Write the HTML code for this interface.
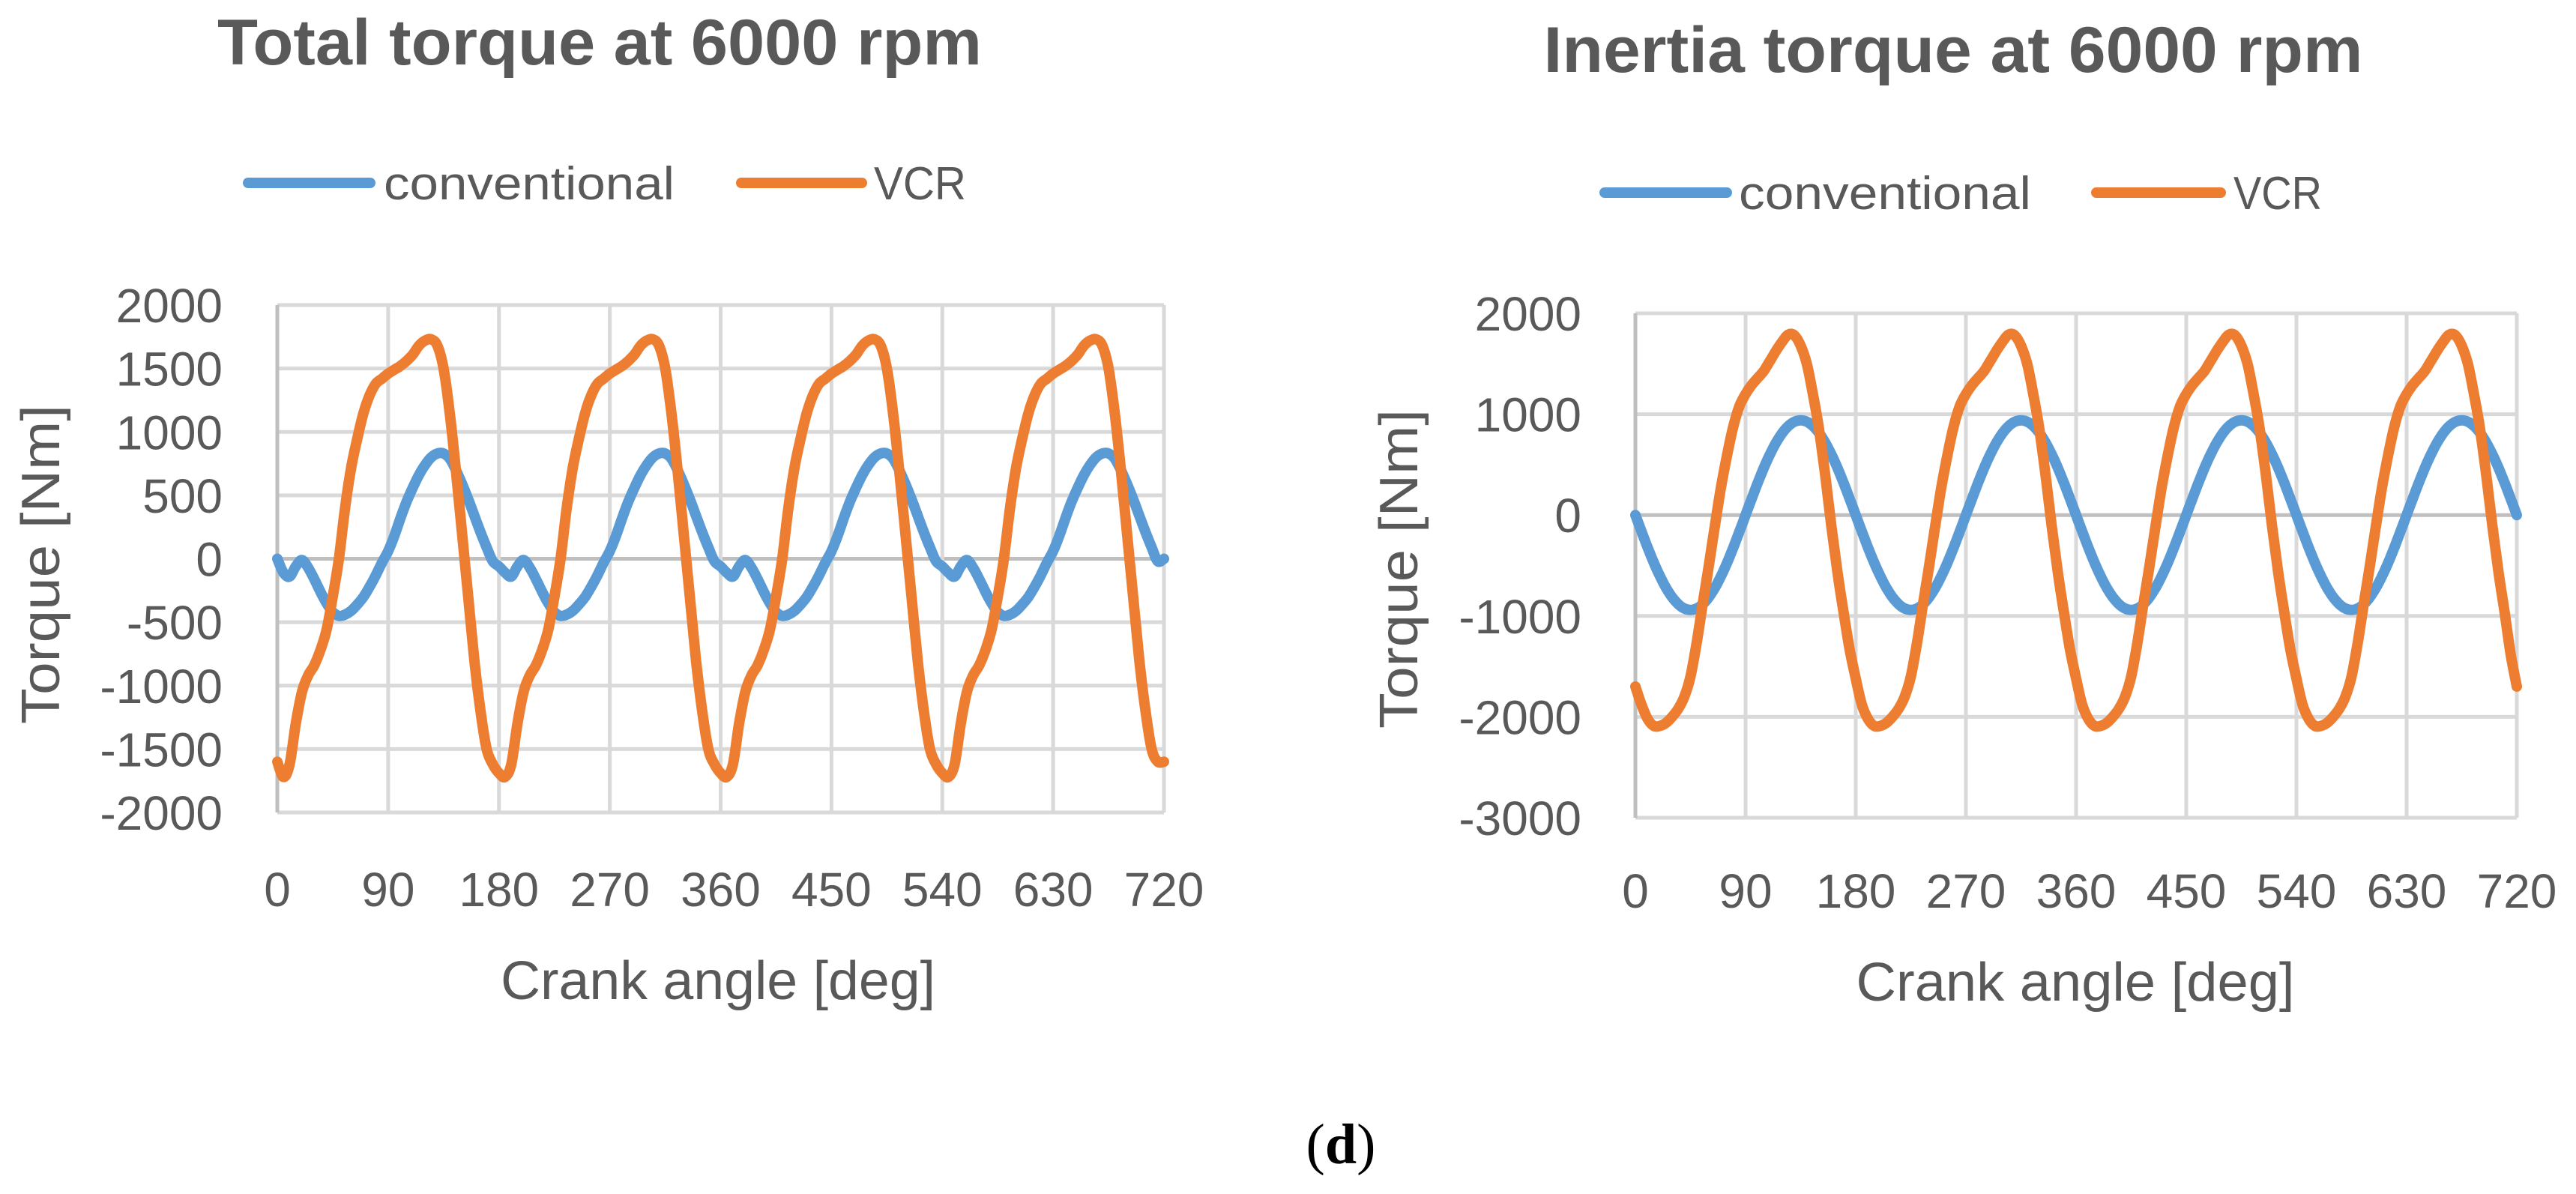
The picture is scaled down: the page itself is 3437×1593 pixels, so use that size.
<!DOCTYPE html>
<html><head><meta charset="utf-8"><style>
html,body{margin:0;padding:0;background:#fff;}
svg{display:block;font-family:"Liberation Sans",sans-serif;}
</style></head><body>
<svg id="fig" width="3437" height="1593" viewBox="0 0 3437 1593">
<g id="left">
  <text x="800" y="86" text-anchor="middle" font-weight="bold" font-size="86" fill="#595959" textLength="1020" lengthAdjust="spacingAndGlyphs">Total torque at 6000 rpm</text>
  <line x1="331" y1="244" x2="494" y2="244" stroke="#5b9bd5" stroke-width="14" stroke-linecap="round"/>
  <text x="512" y="266" font-size="62" fill="#595959" textLength="388" lengthAdjust="spacingAndGlyphs">conventional</text>
  <line x1="989" y1="244" x2="1150" y2="244" stroke="#ed7d31" stroke-width="14" stroke-linecap="round"/>
  <text x="1166" y="266" font-size="62" fill="#595959" textLength="123" lengthAdjust="spacingAndGlyphs">VCR</text>
  <text transform="translate(79,753) rotate(-90)" text-anchor="middle" font-size="72" fill="#595959" textLength="426" lengthAdjust="spacingAndGlyphs">Torque [Nm]</text>
  <text x="958" y="1333" text-anchor="middle" font-size="72" fill="#595959" textLength="580" lengthAdjust="spacingAndGlyphs">Crank angle [deg]</text>
</g>
<g id="right">
  <text x="2606" y="96" text-anchor="middle" font-weight="bold" font-size="86" fill="#595959" textLength="1093" lengthAdjust="spacingAndGlyphs">Inertia torque at 6000 rpm</text>
  <line x1="2141" y1="257" x2="2304" y2="257" stroke="#5b9bd5" stroke-width="14" stroke-linecap="round"/>
  <text x="2320" y="279" font-size="62" fill="#595959" textLength="390" lengthAdjust="spacingAndGlyphs">conventional</text>
  <line x1="2797" y1="257" x2="2963" y2="257" stroke="#ed7d31" stroke-width="14" stroke-linecap="round"/>
  <text x="2980" y="279" font-size="62" fill="#595959" textLength="118" lengthAdjust="spacingAndGlyphs">VCR</text>
  <text transform="translate(1891,759) rotate(-90)" text-anchor="middle" font-size="72" fill="#595959" textLength="426" lengthAdjust="spacingAndGlyphs">Torque [Nm]</text>
  <text x="2769" y="1335" text-anchor="middle" font-size="72" fill="#595959" textLength="585" lengthAdjust="spacingAndGlyphs">Crank angle [deg]</text>
</g>
<text x="1789" y="1552" text-anchor="middle" font-family="Liberation Serif, serif" font-size="76" fill="#000">(<tspan font-weight="bold">d</tspan>)</text>
</svg>
<script>
const NS='http://www.w3.org/2000/svg';
const xTicks=[0,90,180,270,360,450,540,630,720];
const leftYTicks=[2000,1500,1000,500,0,-500,-1000,-1500,-2000];
const rightYTicks=[2000,1000,0,-1000,-2000,-3000];
const angleStep=5;
const leftConventional=[0,-110,-140,-60,-10,-70,-160,-260,-350,-420,-450,-440,-410,-360,-300,-220,-130,-30,60,180,320,450,560,660,740,800,830,830,790,700,590,470,340,210,90,-20,
-60,-110,-140,-60,-10,-70,-160,-260,-350,-420,-450,-440,-410,-360,-300,-220,-130,-30,60,180,320,450,560,660,740,800,830,830,790,700,590,470,340,210,90,-20,
-60,-110,-140,-60,-10,-70,-160,-260,-350,-420,-450,-440,-410,-360,-300,-220,-130,-30,60,180,320,450,560,660,740,800,830,830,790,700,590,470,340,210,90,-20,
-60,-110,-140,-60,-10,-70,-160,-260,-350,-420,-450,-440,-410,-360,-300,-220,-130,-30,60,180,320,450,560,660,740,800,830,830,790,700,590,470,340,210,90,-20,0];
const leftVCR=[-1600,-1720,-1620,-1300,-1050,-920,-840,-720,-560,-300,0,400,720,950,1150,1290,1380,1420,1460,1490,1520,1560,1610,1680,1720,1730,1680,1500,1150,700,200,-300,-800,-1200,-1500,-1620,
-1690,-1720,-1620,-1300,-1050,-920,-840,-720,-560,-300,0,400,720,950,1150,1290,1380,1420,1460,1490,1520,1560,1610,1680,1720,1730,1680,1500,1150,700,200,-300,-800,-1200,-1500,-1620,
-1690,-1720,-1620,-1300,-1050,-920,-840,-720,-560,-300,0,400,720,950,1150,1290,1380,1420,1460,1490,1520,1560,1610,1680,1720,1730,1680,1500,1150,700,200,-300,-800,-1200,-1500,-1620,
-1690,-1720,-1620,-1300,-1050,-920,-840,-720,-560,-300,0,400,720,950,1150,1290,1380,1420,1460,1490,1520,1560,1610,1680,1720,1730,1680,1500,1150,700,200,-300,-800,-1200,-1500,-1600,-1600];
const rightConventional=[0,-163,-321,-470,-604,-720,-814,-883,-926,-940,-926,-883,-814,-720,-604,-470,-321,-163,0,163,321,470,604,720,814,883,926,940,926,883,814,720,604,470,321,163,
0,-163,-321,-470,-604,-720,-814,-883,-926,-940,-926,-883,-814,-720,-604,-470,-321,-163,0,163,321,470,604,720,814,883,926,940,926,883,814,720,604,470,321,163,
0,-163,-321,-470,-604,-720,-814,-883,-926,-940,-926,-883,-814,-720,-604,-470,-321,-163,0,163,321,470,604,720,814,883,926,940,926,883,814,720,604,470,321,163,
0,-163,-321,-470,-604,-720,-814,-883,-926,-940,-926,-883,-814,-720,-604,-470,-321,-163,0,163,321,470,604,720,814,883,926,940,926,883,814,720,604,470,321,163,0];
const rightVCR=[-1700,-1880,-2020,-2090,-2090,-2060,-2000,-1920,-1800,-1600,-1270,-880,-500,-100,280,600,880,1080,1200,1290,1360,1430,1530,1630,1720,1790,1780,1680,1500,1200,850,400,-100,-560,-960,-1330,
-1620,-1880,-2020,-2090,-2090,-2060,-2000,-1920,-1800,-1600,-1270,-880,-500,-100,280,600,880,1080,1200,1290,1360,1430,1530,1630,1720,1790,1780,1680,1500,1200,850,400,-100,-560,-960,-1330,
-1620,-1880,-2020,-2090,-2090,-2060,-2000,-1920,-1800,-1600,-1270,-880,-500,-100,280,600,880,1080,1200,1290,1360,1430,1530,1630,1720,1790,1780,1680,1500,1200,850,400,-100,-560,-960,-1330,
-1620,-1880,-2020,-2090,-2090,-2060,-2000,-1920,-1800,-1600,-1270,-880,-500,-100,280,600,880,1080,1200,1290,1360,1430,1530,1630,1720,1790,1780,1680,1500,1200,850,400,-100,-560,-960,-1380,-1700];

function mk(tag,attrs,parent,txt){const e=document.createElementNS(NS,tag);for(const k in attrs)e.setAttribute(k,attrs[k]);if(txt!==undefined)e.textContent=txt;parent.appendChild(e);return e;}

function smooth(pts){
  let d='M'+pts[0][0].toFixed(1)+','+pts[0][1].toFixed(1);
  for(let i=0;i<pts.length-1;i++){
    const p0=pts[Math.max(0,i-1)],p1=pts[i],p2=pts[i+1],p3=pts[Math.min(pts.length-1,i+2)];
    const c1x=p1[0]+(p2[0]-p0[0])/6,c1y=p1[1]+(p2[1]-p0[1])/6;
    const c2x=p2[0]-(p3[0]-p1[0])/6,c2y=p2[1]-(p3[1]-p1[1])/6;
    d+=' C'+c1x.toFixed(1)+','+c1y.toFixed(1)+' '+c2x.toFixed(1)+','+c2y.toFixed(1)+' '+p2[0].toFixed(1)+','+p2[1].toFixed(1);
  }
  return d;
}

function drawChart(g,cfg){
  const X=v=>cfg.x0+(v-0)/720*(cfg.x1-cfg.x0);
  const Y=v=>cfg.y0+(cfg.ymax-v)/(cfg.ymax-cfg.ymin)*(cfg.y1-cfg.y0);
  const grid=mk('g',{},g);
  
  
  cfg.yTicks.forEach(t=>{
    const ln=mk('line',{x1:cfg.x0,x2:cfg.x1,y1:Y(t),y2:Y(t),stroke:t===0?'#bfbfbf':'#d9d9d9','stroke-width':5},grid);
    
    
    const tx=mk('text',{x:cfg.yLabelX,y:Y(t)+23,'text-anchor':'end','font-size':64,fill:'#595959'},g,String(t));
    
    
  });
  xTicks.forEach(t=>{
    const ln=mk('line',{x1:X(t),x2:X(t),y1:cfg.y0,y2:cfg.y1,stroke:t===0?'#bfbfbf':'#d9d9d9','stroke-width':5},grid);
    
    
    const tx=mk('text',{x:X(t),y:cfg.xLabelY,'text-anchor':'middle','font-size':64,fill:'#595959'},g,String(t));
    
    
  });
  [[cfg.conv,'#5b9bd5','series-conventional'],[cfg.vcr,'#ed7d31','series-vcr']].forEach(([arr,col,name])=>{
    const pts=arr.map((v,i)=>[X(i*angleStep),Y(v)]);
    const p=mk('path',{d:smooth(pts),fill:'none',stroke:col,'stroke-width':14,'stroke-linejoin':'round','stroke-linecap':'round'},g);
    
    
  });
}
drawChart(document.getElementById('left'),{x0:370,x1:1553,y0:407,y1:1084,ymax:2000,ymin:-2000,yTicks:leftYTicks,conv:leftConventional,vcr:leftVCR,yLabelX:297,xLabelY:1209});
drawChart(document.getElementById('right'),{x0:2182,x1:3358,y0:418,y1:1091,ymax:2000,ymin:-3000,yTicks:rightYTicks,conv:rightConventional,vcr:rightVCR,yLabelX:2110,xLabelY:1211});
</script>
</body></html>
